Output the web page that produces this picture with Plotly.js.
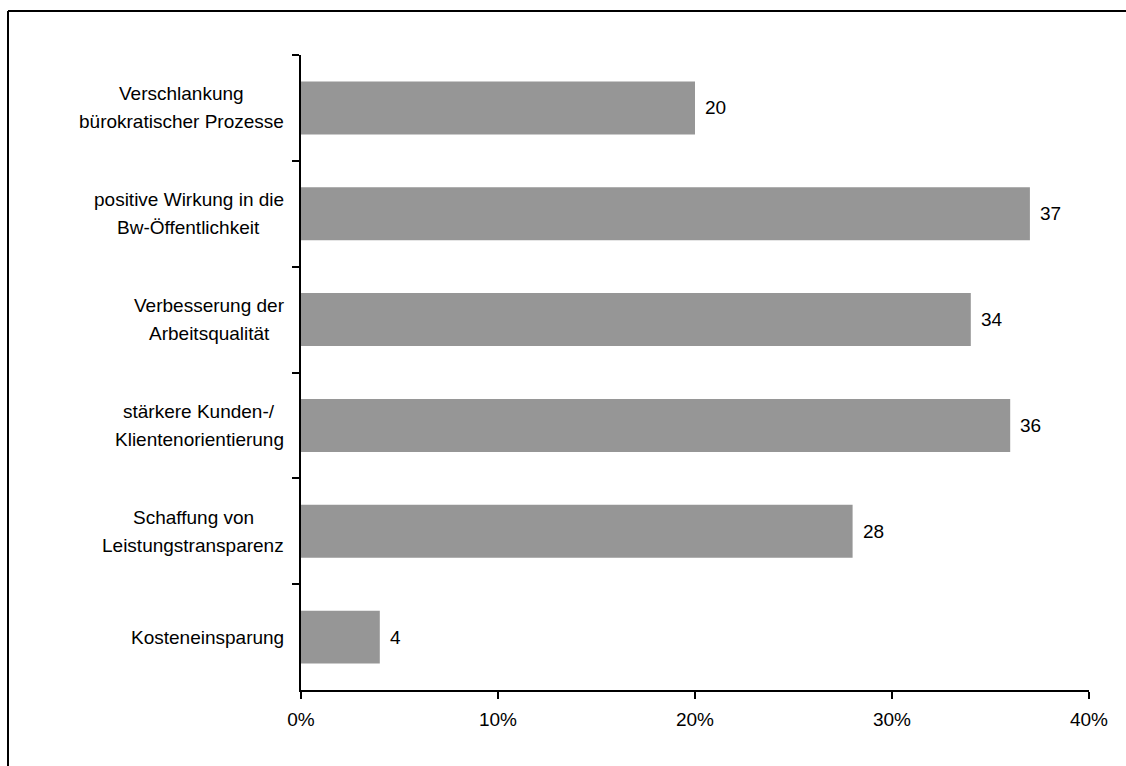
<!DOCTYPE html>
<html>
<head>
<meta charset="utf-8">
<script src="https://cdn.plot.ly/plotly-3.0.1.min.js"></script>
<style>
html,body{margin:0;padding:0;background:#fff;}
#chart{width:1126px;height:766px;}
</style>
</head>
<body>
<div id="chart"></div>
<script>
// Data (top to bottom as shown)
const categories = [
  "Verschlankung<br>bürokratischer Prozesse",
  "positive Wirkung in die<br>Bw-Öffentlichkeit",
  "Verbesserung der<br>Arbeitsqualität",
  "stärkere Kunden-/<br>Klientenorientierung",
  "Schaffung von<br>Leistungstransparenz",
  "Kosteneinsparung"
];
const values = [20, 37, 34, 36, 28, 4];
const xTickVals = [0, 10, 20, 30, 40];
const xTickText = ["0%", "10%", "20%", "30%", "40%"];

const FONT = "Liberation Sans, Arial, sans-serif";
const W = 1126, H = 766;
const margin = {l: 301, r: 37, t: 55, b: 76};
const pw = W - margin.l - margin.r, ph = H - margin.t - margin.b;
const px = x => (x - margin.l) / pw;
const py = y => (H - margin.b - y) / ph;
const LINE_H = 28;

const trace = {
  type: "bar",
  orientation: "h",
  y: categories,
  x: values,
  marker: {color: "#969696", line: {width: 0}},
  width: 0.5,
  hoverinfo: "skip"
};

const annotations = [];
categories.forEach((c, i) => {
  const lines = c.split("<br>");
  const n = lines.length;
  lines.forEach((ln, k) => {
    annotations.push({
      xref: "paper", yref: "y", x: px(284), y: c,
      xanchor: "center", yanchor: "middle", align: "center",
      xshift: 0,
      text: ln, showarrow: false,
      font: {family: FONT, size: 19, color: "#000"},
      yshift: ((n - 1) / 2 - k) * LINE_H
    });
  });
  annotations.push({
    xref: "x", yref: "y", x: values[i], y: c,
    xanchor: "left", yanchor: "middle", xshift: 8,
    text: String(values[i]), showarrow: false,
    font: {family: FONT, size: 19, color: "#000"}
  });
});

const labelAnn = annotations.filter(a => a.xref === "paper");

const layout = {
  width: W, height: H,
  margin: margin,
  paper_bgcolor: "#fff",
  plot_bgcolor: "#fff",
  showlegend: false,
  font: {family: FONT, size: 19, color: "#000"},
  xaxis: {
    range: [0, 40],
    tickvals: xTickVals,
    ticktext: xTickText,
    showgrid: false, zeroline: false,
    showline: true, linecolor: "#000", linewidth: 2,
    ticks: "outside", ticklen: 7, tickwidth: 2, tickcolor: "#000",
    ticklabelstandoff: 4,
    tickfont: {family: FONT, size: 19, color: "#000"},
    fixedrange: true
  },
  yaxis: {
    type: "category",
    autorange: "reversed",
    showticklabels: false,
    tickson: "boundaries",
    showgrid: false, zeroline: false,
    showline: true, linecolor: "#000", linewidth: 2,
    ticks: "outside", ticklen: 7, tickwidth: 2, tickcolor: "#000",
    fixedrange: true
  },
  annotations: annotations,
  shapes: [
    {type: "line", xref: "paper", yref: "paper", x0: px(8), x1: px(8), y0: py(11), y1: py(800), line: {color: "#000", width: 2}},
    {type: "line", xref: "paper", yref: "paper", x0: px(8), x1: px(1160), y0: py(11), y1: py(11), line: {color: "#000", width: 2}}
  ]
};

// Center each label block's lines on a common axis; block right edge at ~284px
const canvas = document.createElement("canvas");
const ctx = canvas.getContext("2d");
ctx.font = "19px 'Liberation Sans', Arial, sans-serif";
const groups = {};
labelAnn.forEach(a => { (groups[a.y] = groups[a.y] || []).push(a); });
Object.values(groups).forEach(g => {
  const maxW = Math.max(...g.map(a => ctx.measureText(a.text).width));
  g.forEach(a => { a.xshift = -maxW / 2; });
});

Plotly.newPlot("chart", [trace], layout, {displayModeBar: false, staticPlot: true});
</script>
</body>
</html>
